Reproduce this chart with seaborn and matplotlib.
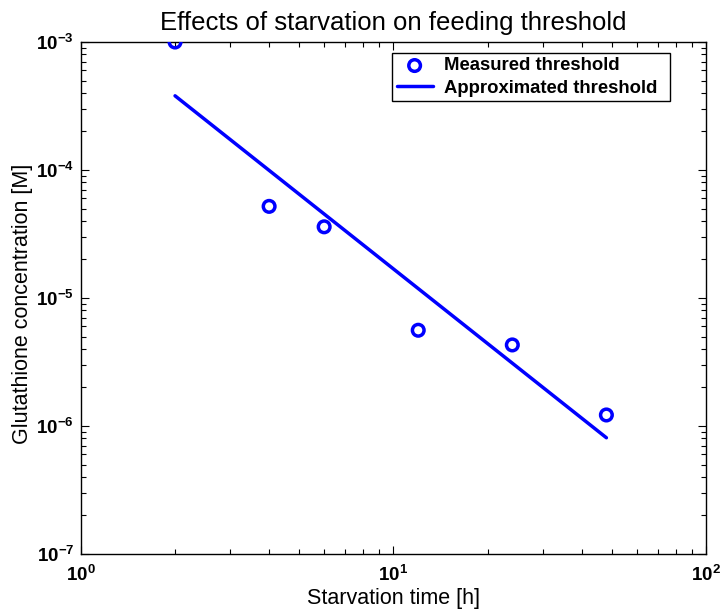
import math
import matplotlib
matplotlib.use("Agg")
import matplotlib.pyplot as plt
from matplotlib.ticker import FuncFormatter, LogLocator, NullFormatter
import seaborn as sns
import pandas as pd

# measured feeding thresholds
starvation_h = [2, 4, 6, 12, 24, 48]
threshold_M = [1.0e-3, 5.2e-5, 3.6e-5, 5.6e-6, 4.3e-6, 1.22e-6]

# approximated (fitted) threshold, end points
fit_h = [2, 48]
fit_M = [3.8e-4, 8.1e-7]

df_meas = pd.DataFrame({"t": starvation_h, "c": threshold_M})
df_fit = pd.DataFrame({"t": fit_h, "c": fit_M})

sns.set_style("ticks")
plt.rcParams["font.family"] = ["Liberation Sans", "DejaVu Sans"]
plt.rcParams["text.color"] = "black"
plt.rcParams["axes.labelcolor"] = "black"
plt.rcParams["mathtext.fontset"] = "custom"
plt.rcParams["mathtext.rm"] = "Liberation Sans"
plt.rcParams["mathtext.bf"] = "Liberation Sans:bold"

fig = plt.figure(figsize=(7.21, 6.16), dpi=100)
ax = fig.add_axes([0.1123, 0.1006, 0.8669, 0.8312])

sns.scatterplot(data=df_meas, x="t", y="c", ax=ax, marker="o", s=70,
                facecolors="none", edgecolor="#0000ff", linewidth=2.5,
                label="Measured threshold", zorder=3)
sns.lineplot(data=df_fit, x="t", y="c", ax=ax, color="#0000ff", linewidth=2.5,
             label="Approximated threshold")

ax.set_xscale("log")
ax.set_yscale("log")
ax.set_xlim(1, 100)
ax.set_ylim(1e-7, 1e-3)

fmt = FuncFormatter(lambda v, p: r"$\mathbf{10^{%d}}$" % round(math.log10(v)))
ax.xaxis.set_major_formatter(fmt)
ax.yaxis.set_major_formatter(fmt)
ax.xaxis.set_major_locator(LogLocator(base=10, numticks=10))
ax.yaxis.set_major_locator(LogLocator(base=10, numticks=10))
ax.xaxis.set_minor_locator(LogLocator(base=10, subs=range(2, 10), numticks=20))
ax.yaxis.set_minor_locator(LogLocator(base=10, subs=range(2, 10), numticks=20))
ax.xaxis.set_minor_formatter(NullFormatter())
ax.yaxis.set_minor_formatter(NullFormatter())

for s in ax.spines.values():
    s.set_visible(True)
    s.set_linewidth(1.0)
    s.set_color("black")
ax.tick_params(which="both", direction="in", top=True, right=True, labelsize=13.5, colors="black")
ax.tick_params(which="major", length=6, width=0.8)
ax.tick_params(which="minor", length=3.5, width=0.8)
ax.tick_params(axis="x", pad=8)
ax.tick_params(axis="y", pad=5)

ax.set_title("Effects of starvation on feeding threshold", fontsize=18.5, pad=9)
ax.set_xlabel("Starvation time [h]", fontsize=15.5, labelpad=2)
ax.set_ylabel("Glutathione concentration [M]", fontsize=15.5)
ax.yaxis.set_label_coords(-0.077, 0.488)

leg = ax.legend(loc="upper left", bbox_to_anchor=(0.4976, 0.0, 0.4448, 0.979),
                mode="expand", borderaxespad=0, frameon=True,
                fancybox=False, edgecolor="black", framealpha=1,
                prop={"weight": "bold", "size": 13.3}, handlelength=1.95,
                handletextpad=0.6, borderpad=0.25, labelspacing=0.28)
leg.get_frame().set_linewidth(1.0)

fig.savefig("out.png", dpi=100)
